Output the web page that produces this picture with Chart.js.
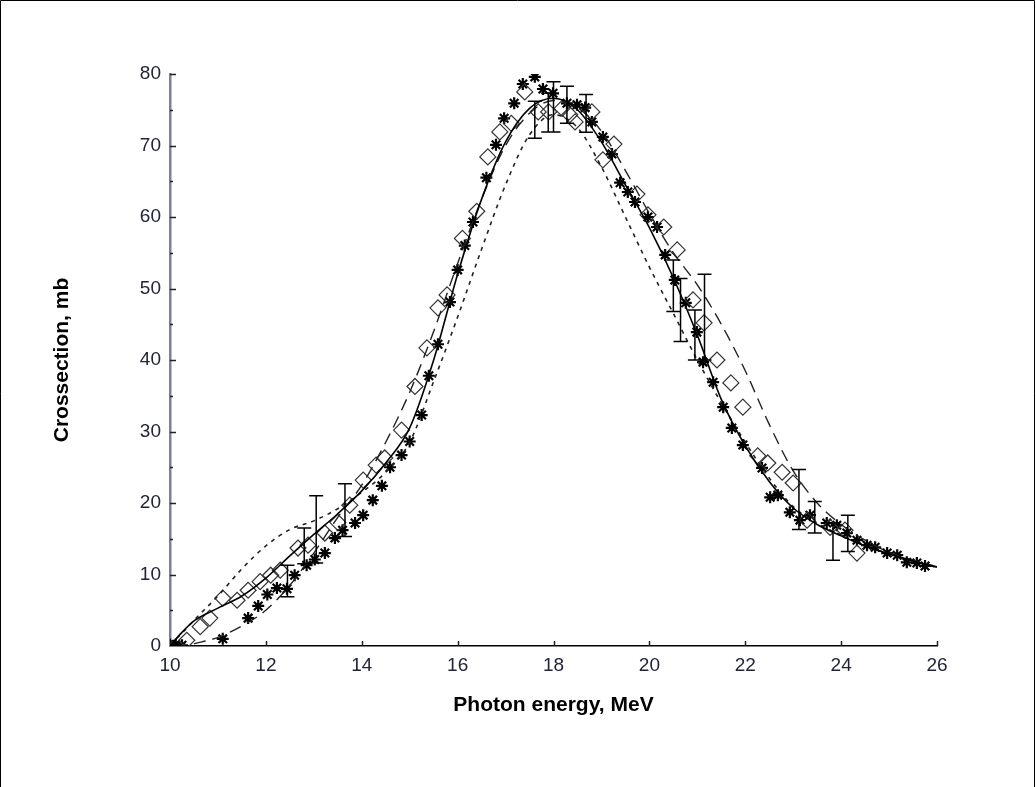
<!DOCTYPE html>
<html>
<head>
<meta charset="utf-8">
<script src="https://cdn.jsdelivr.net/npm/chart.js@4.4.0/dist/chart.umd.min.js"></script>
<style>
  html, body { margin: 0; padding: 0; background: #fff; }
  #wrap { width: 1036px; height: 787px; }
</style>
</head>
<body>
<div id="wrap"><canvas id="myChart" width="1036" height="787"></canvas></div>
<script>
// measured points (asterisks)
const starE = [10.0, 10.12, 10.25, 11.1, 11.63, 11.84, 12.03, 12.23, 12.44, 12.6, 12.85, 13.02, 13.23, 13.44, 13.6, 13.86, 14.03, 14.23, 14.42, 14.59, 14.83, 15.0, 15.25, 15.4, 15.59, 15.84, 16.0, 16.15, 16.32, 16.6, 16.8, 16.97, 17.18, 17.36, 17.61, 17.78, 17.99, 18.28, 18.49, 18.66, 18.8, 19.03, 19.22, 19.39, 19.55, 19.7, 19.97, 20.16, 20.33, 20.53, 20.76, 20.99, 21.12, 21.33, 21.54, 21.72, 21.95, 22.35, 22.52, 22.68, 22.93, 23.14, 23.35, 23.7, 23.91, 24.12, 24.33, 24.54, 24.71, 24.96, 25.17, 25.37, 25.58, 25.75];
const starS = [0.2, 0.2, 0.1, 1.0, 3.9, 5.6, 7.2, 8.1, 8.0, 9.9, 11.3, 12.1, 13.0, 15.1, 16.2, 17.2, 18.3, 20.4, 22.4, 25.0, 26.7, 28.6, 32.3, 37.8, 42.2, 48.1, 52.6, 56.0, 59.3, 65.5, 70.1, 73.8, 75.9, 78.6, 79.6, 77.9, 77.3, 75.9, 75.7, 75.3, 73.3, 71.2, 68.8, 64.8, 63.5, 62.1, 60.0, 58.6, 54.7, 51.2, 48.0, 43.9, 39.7, 36.9, 33.4, 30.5, 28.1, 24.9, 20.8, 21.1, 18.7, 17.6, 18.3, 17.2, 16.9, 15.8, 14.8, 14.1, 13.8, 13.0, 12.7, 11.7, 11.6, 11.2];

// measured points (diamonds)
const diaE = [10.35, 10.63, 10.83, 11.1, 11.4, 11.63, 11.88, 12.1, 12.3, 12.67, 12.88, 13.23, 13.5, 13.75, 14.03, 14.3, 14.48, 14.83, 15.11, 15.36, 15.59, 15.78, 16.1, 16.4, 16.63, 16.88, 17.12, 17.4, 17.68, 17.9, 18.18, 18.34, 18.45, 18.8, 19.03, 19.26, 19.74, 19.97, 20.3, 20.58, 20.91, 21.14, 21.41, 21.7, 21.95, 22.26, 22.47, 22.77, 23.0, 23.29, 23.77, 24.08, 24.33];
const diaS = [0.8, 2.7, 3.9, 6.7, 6.4, 7.8, 9.0, 9.9, 10.6, 13.7, 14.1, 15.8, 17.3, 19.7, 23.2, 25.3, 26.3, 30.2, 36.3, 41.7, 47.3, 49.1, 57.0, 60.8, 68.4, 71.9, 73.1, 77.5, 74.7, 74.7, 75.2, 74.3, 73.3, 74.7, 68.0, 70.2, 63.2, 60.3, 58.6, 55.4, 48.4, 45.2, 40.0, 36.8, 33.4, 26.6, 25.6, 24.3, 22.8, 17.6, 16.6, 16.2, 13.0];

// calculated curves on a common energy grid
const gridE = [10, 10.25, 10.5, 11, 11.5, 12, 12.5, 13, 13.5, 14, 14.5, 15, 15.5, 16, 16.5, 17, 17.5, 18, 18.5, 19, 19.5, 20, 20.5, 21, 21.5, 22, 22.5, 23, 23.5, 24, 24.5, 25, 25.5, 26];
const solidS = [0, 1.9, 3.5, 5.3, 7.0, 9.5, 12.6, 15.6, 18.5, 21.7, 25.6, 30.5, 40.0, 52.0, 62.5, 70.5, 75.2, 76.6, 75.0, 70.5, 64.5, 58.5, 51.5, 43.5, 34.5, 28.0, 23.0, 19.3, 17.0, 15.4, 14.0, 12.9, 11.9, 11.0];
const dottedS = [0.3, 1.8, 3.6, 7.0, 10.8, 14.0, 16.3, 17.5, 19.2, 21.5, 24.3, 28.5, 37.0, 46.0, 55.5, 64.5, 71.5, 74.3, 72.5, 67.0, 60.0, 53.0, 46.5, 40.0, 34.0, 28.5, 23.5, 19.5, 17.2, 15.5, 14.0, 12.9, 11.9, 11.0];
const dashS = [null, null, 0.3, 1.2, 2.8, 5.0, 8.5, 13.0, 18.0, 22.5, 28.5, 35.5, 44.0, 53.5, 62.5, 70.0, 74.5, 76.3, 75.3, 72.0, 66.5, 60.5, 55.0, 50.5, 45.0, 38.5, 31.0, 24.5, 20.0, 17.0, 14.8, 13.1, 12.0, 11.1];

// error bars
const errE = [12.45, 12.8, 13.05, 13.65, 17.61, 17.89, 18.0, 18.28, 18.68, 20.5, 20.65, 20.95, 21.15, 23.12, 23.45, 23.83, 24.14];
const errS = [9.1, 14.0, 16.3, 19.0, 73.6, 74.6, 75.4, 75.7, 74.5, 50.4, 47.0, 43.5, 46.0, 20.5, 18.0, 14.6, 15.75];
const errD = [2.2, 2.5, 4.7, 3.7, 2.6, 2.7, 3.5, 2.6, 2.65, 3.6, 4.4, 3.5, 6.0, 4.2, 2.2, 2.6, 2.55];

const xTicks = [10, 12, 14, 16, 18, 20, 22, 24, 26];
const yTicks = [0, 10, 20, 30, 40, 50, 60, 70, 80];

function pts(xs, ys) {
  let out = [];
  for (let i = 0; i < xs.length; i++) out.push({x: xs[i], y: ys[i]});
  return out;
}

const frame = {
  id: 'frame',
  beforeDraw(chart) {
    const ctx = chart.ctx;
    ctx.save();
    ctx.fillStyle = '#fff';
    ctx.fillRect(0, 0, chart.width, chart.height);
    ctx.strokeStyle = '#000';
    ctx.lineWidth = 1;
    ctx.beginPath();
    ctx.moveTo(0.5, chart.height);
    ctx.lineTo(0.5, 0.5);
    ctx.lineTo(chart.width - 1.5, 0.5);
    ctx.lineTo(chart.width - 1.5, chart.height);
    ctx.stroke();
    ctx.restore();
  },
  afterDraw(chart) {
    // small inward tick marks
    const {ctx, scales: {x, y}} = chart;
    ctx.save();
    ctx.lineWidth = 1.5;
    ctx.strokeStyle = '#222';
    ctx.beginPath();
    for (let v = 5; v <= 80; v += 5) {
      const py = Math.round(y.getPixelForValue(v)) + 0.5;
      const len = v % 10 == 0 ? 6 : 3;
      ctx.moveTo(x.left, py);
      ctx.lineTo(x.left + len, py);
    }
    for (let i = 1; i < xTicks.length; i++) {
      const px = Math.round(x.getPixelForValue(xTicks[i])) + 0.5;
      ctx.moveTo(px, y.bottom);
      ctx.lineTo(px, y.bottom - 5);
    }
    ctx.stroke();
    ctx.restore();
  }
};

const errorBars = {
  id: 'errorBars',
  afterDatasetsDraw(chart) {
    const {ctx, scales: {x, y}} = chart;
    ctx.save();
    ctx.strokeStyle = '#000';
    ctx.lineWidth = 1.5;
    ctx.beginPath();
    for (let i = 0; i < errE.length; i++) {
      const px = x.getPixelForValue(errE[i]);
      const top = y.getPixelForValue(errS[i] + errD[i]);
      const bot = y.getPixelForValue(errS[i] - errD[i]);
      ctx.moveTo(px, top); ctx.lineTo(px, bot);
      ctx.moveTo(px - 7, top); ctx.lineTo(px + 7, top);
      ctx.moveTo(px - 7, bot); ctx.lineTo(px + 7, bot);
    }
    ctx.stroke();
    ctx.restore();
  }
};

const tickFont = {family: "'Liberation Sans', Arial, sans-serif", size: 19};
const titleFont = {family: "'Liberation Sans', Arial, sans-serif", size: 21, weight: 'bold'};

const config = {
  type: 'scatter',
  data: {
    datasets: [
      {
        label: 'solid',
        data: pts(gridE, solidS),
        showLine: true,
        borderColor: '#000',
        borderWidth: 1.6,
        pointRadius: 0,
        cubicInterpolationMode: 'monotone'
      },
      {
        label: 'dotted',
        data: pts(gridE, dottedS),
        showLine: true,
        borderColor: '#222',
        borderWidth: 1.6,
        borderDash: [4, 5],
        pointRadius: 0,
        cubicInterpolationMode: 'monotone'
      },
      {
        label: 'dashed',
        data: pts(gridE, dashS),
        showLine: true,
        borderColor: '#222',
        borderWidth: 1.4,
        borderDash: [12, 7],
        pointRadius: 0,
        cubicInterpolationMode: 'monotone'
      },
      {
        label: 'diamonds',
        data: pts(diaE, diaS),
        pointStyle: 'rectRot',
        pointRadius: 8,
        borderColor: '#333',
        borderWidth: 1.2,
        backgroundColor: 'rgba(255,255,255,0)'
      },
      {
        label: 'stars',
        data: pts(starE, starS),
        pointStyle: 'star',
        pointRadius: 6,
        borderColor: '#000',
        borderWidth: 2.2,
        backgroundColor: '#000'
      }
    ]
  },
  options: {
    responsive: false,
    animation: false,
    layout: { padding: { left: 0, top: 74, right: 99, bottom: 0 } },
    plugins: {
      legend: { display: false },
      tooltip: { enabled: false }
    },
    scales: {
      x: {
        type: 'linear',
        min: 10,
        max: 26,
        afterFit: function(s) { s.height = 141; },
        afterBuildTicks: function(s) { s.ticks = xTicks.map(v => ({value: v})); },
        grid: { display: false, drawTicks: false },
        border: { display: true, color: '#000', width: 1.5 },
        ticks: { color: '#23233a', font: tickFont, padding: 8, maxRotation: 0 },
        title: { display: true, text: 'Photon energy, MeV', color: '#000', font: titleFont, padding: { top: 0, bottom: 69 } }
      },
      y: {
        type: 'linear',
        min: 0,
        max: 80,
        afterFit: function(s) { s.width = 170; },
        afterBuildTicks: function(s) { s.ticks = yTicks.map(v => ({value: v})); },
        grid: { display: false, drawTicks: false },
        border: { display: true, color: '#7d8198', width: 2.5 },
        ticks: { color: '#23233a', font: tickFont, padding: 9 },
        title: { display: true, text: 'Crossection, mb', color: '#000', font: titleFont, padding: { top: 50, bottom: 0 } }
      }
    }
  },
  plugins: [frame, errorBars]
};

const myChart = new Chart(document.getElementById('myChart'), config);
</script>
</body>
</html>
